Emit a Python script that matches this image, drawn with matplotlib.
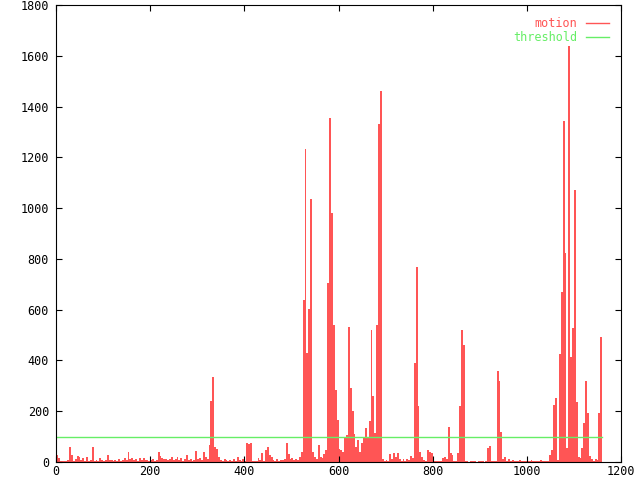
import numpy as np
import matplotlib
matplotlib.use("Agg")
import matplotlib.pyplot as plt
from matplotlib.lines import Line2D

# motion score per 4-frame bin (bins start at frame 0)
bin_width = 4
motion = [
    # 0 - 96
    27, 14, 5, 3, 5, 2, 6, 60, 27, 3, 10, 24, 21, 8, 17, 4, 21, 3, 8, 60, 5, 7, 3, 14, 6,
    # 100 - 196
    4, 8, 27, 6, 9, 3, 8, 4, 10, 5, 6, 14, 8, 40, 12, 14, 6, 10, 3, 15, 8, 17, 6, 8, 5,
    # 200 - 296
    6, 10, 4, 8, 40, 22, 14, 10, 12, 6, 10, 21, 8, 12, 18, 7, 14, 5, 10, 27, 6, 12, 4, 8, 45,
    # 300 - 396
    10, 14, 6, 40, 21, 12, 67, 240, 335, 60, 50, 21, 8, 5, 10, 6, 4, 8, 3, 10, 5, 20, 8, 5, 10,
    # 400 - 496
    4, 73, 69, 76, 5, 3, 5, 14, 8, 34, 5, 47, 60, 27, 21, 8, 5, 10, 3, 8, 6, 10, 73, 30, 10,
    # 500 - 596
    14, 6, 10, 8, 20, 40, 637, 1234, 428, 601, 1034, 40, 20, 10, 67, 20, 15, 30, 47, 704,
    1356, 979, 538, 283, 165,
    # 600 - 696
    50, 47, 40, 94, 105, 530, 290, 200, 110, 59, 86, 40, 73, 94, 134, 94, 160, 520, 260, 115,
    540, 1330, 1460, 10, 3,
    # 700 - 796
    8, 5, 30, 12, 37, 20, 35, 10, 5, 12, 3, 10, 6, 25, 15, 390, 770, 220, 40, 21, 8, 5, 47, 40, 37,
    # 800 - 896
    3, 2, 3, 2, 3, 15, 20, 10, 139, 34, 27, 5, 3, 34, 220, 520, 460, 2, 4, 1, 3, 2, 4, 1, 3,
    # 900 - 996
    2, 3, 1, 2, 54, 63, 3, 2, 5, 360, 320, 117, 10, 20, 5, 10, 3, 8, 2, 5, 3, 6, 2, 4, 3,
    # 1000 - 1096
    2, 5, 8, 3, 2, 5, 3, 6, 2, 4, 3, 5, 27, 47, 224, 251, 8, 424, 668, 1345, 825, 55, 1640,
    413, 526,
    # 1100 - 1156
    1073, 236, 20, 15, 55, 152, 318, 193, 22, 10, 5, 12, 8, 192, 492,
]
threshold = 100

x_ticks = [0, 200, 400, 600, 800, 1000, 1200]
y_ticks = [0, 200, 400, 600, 800, 1000, 1200, 1400, 1600, 1800]

MOTION_COLOR = "#ff5555"
THRESH_COLOR = "#66ee66"
MONO = "DejaVu Sans Mono"

frames = np.arange(len(motion)) * bin_width
frames_end = np.append(frames, frames[-1] + bin_width)

fig = plt.figure(figsize=(6.4, 4.8), dpi=100)
ax = fig.add_axes([56 / 640, 18 / 480, 565 / 640, 457 / 480])

ax.bar(frames, motion, width=bin_width, align="edge",
       color=MOTION_COLOR, linewidth=0)
ax.plot(frames_end, np.full(len(frames_end), threshold),
        color=THRESH_COLOR, lw=1.0)

ax.set_xlim(x_ticks[0], x_ticks[-1])
ax.set_ylim(y_ticks[0], y_ticks[-1])
ax.set_xticks(x_ticks)
ax.set_yticks(y_ticks)
ax.tick_params(direction="in", top=True, right=True, length=4.5,
               width=0.8, labelsize=8.5)
ax.tick_params(axis="y", pad=5)
ax.tick_params(axis="x", pad=2)
for lbl in ax.get_xticklabels() + ax.get_yticklabels():
    lbl.set_family(MONO)
for sp in ax.spines.values():
    sp.set_linewidth(0.8)

handles = [Line2D([], [], color=MOTION_COLOR, lw=1.0),
           Line2D([], [], color=THRESH_COLOR, lw=1.0)]
ax.legend(handles, ["motion", "threshold"], loc="upper right",
          markerfirst=False, frameon=False, labelcolor="linecolor",
          handlelength=2.0, handletextpad=0.7, labelspacing=0.1,
          borderaxespad=0.6, prop={"family": MONO, "size": 8.5})

fig.savefig("out.png", dpi=100)
